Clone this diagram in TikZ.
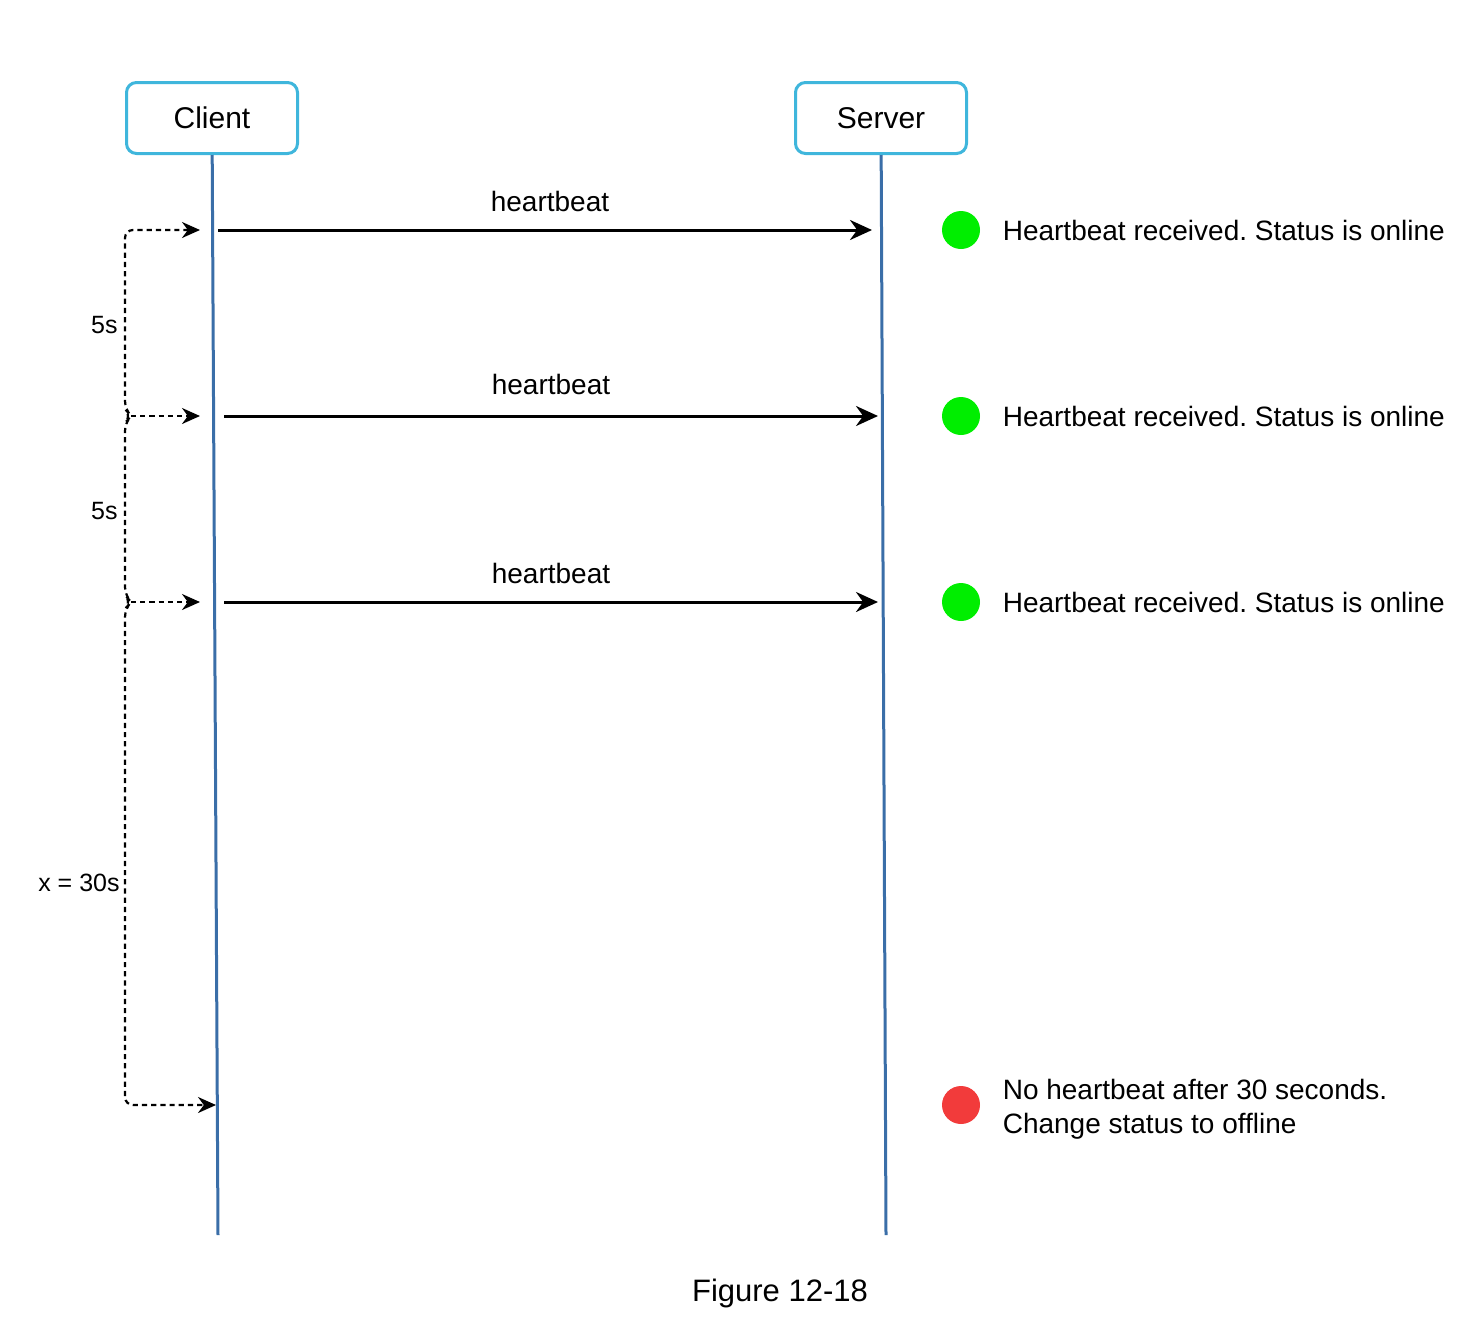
\documentclass[tikz,border=0pt]{standalone}
\usepackage{fontspec}
\setmainfont{Liberation Sans}
\frenchspacing
\usetikzlibrary{positioning, arrows.meta}
\definecolor{boxblue}{HTML}{3FB6DC}
\definecolor{lineblue}{HTML}{3A6EA8}
\definecolor{okgreen}{HTML}{00EE00}
\definecolor{failred}{HTML}{F23B3B}
\tikzset{
x=0.5pt, y=-0.5pt, % one unit is one pixel of the reference
actor/.style={draw=boxblue, line width=1.5pt, rounded corners=5pt, fill=white, minimum width=85.5pt, minimum height=35.5pt, font=\fontsize{15}{18}\selectfont}, % the two boxes on top
lifeline/.style={draw=lineblue, line width=1.5pt},
msg/.style={line width=1.5pt, -{Stealth[length=11pt, width=10pt]}}, % heartbeat arrows
timer/.style={dash pattern=on 2.6pt off 2pt, line width=1.1pt, >={Stealth[length=9pt, width=8pt]}}, % dashed timing bracket
dot/.style={circle, minimum size=19pt, inner sep=0pt},
status/.style={inner sep=0pt, align=left, font=\fontsize{14}{17}\selectfont},
}

\begin{document}
\begin{tikzpicture}
    \useasboundingbox (0,0) rectangle (1460,1328);
    \node[actor] (client) at (212,118) {Client};
    \node[actor] (server) at (881,118) {Server};
    \coordinate (client-end) at (218,1235);
    \coordinate (server-end) at (886,1235);
    \draw[lifeline] (client) -- (client-end);
    \draw[lifeline] (server) -- (server-end);

    \coordinate (send1) at (218,230);
    \coordinate (recv1) at (872,230);
    \coordinate (send2) at (224,416);
    \coordinate (recv2) at (878,416);
    \coordinate (send3) at (224,602);
    \coordinate (recv3) at (878,602);
    \draw[msg] (send1) -- node[above=5.2pt, xshift=2.5pt, font=\fontsize{14}{17}\selectfont] {heartbeat} (recv1);
    \draw[msg] (send2) -- node[above=6.5pt, font=\fontsize{14}{17}\selectfont] {heartbeat} (recv2);
    \draw[msg] (send3) -- node[above=5pt, font=\fontsize{14}{17}\selectfont] {heartbeat} (recv3);

    \node[dot, fill=okgreen] (ok1) at (961,230) {};
    \node[dot, fill=okgreen] (ok2) at (961,416) {};
    \node[dot, fill=okgreen] (ok3) at (961,602) {};
    \node[dot, fill=failred] (fail) at (961,1105) {};
    \node[status, right=11pt of ok1] (status1) {Heartbeat received. Status is online};
    \node[status, right=11pt of ok2] (status2) {Heartbeat received. Status is online};
    \node[status, right=11pt of ok3] (status3) {Heartbeat received. Status is online};
    \node[status, right=11pt of fail, yshift=-2pt] (offline) {No heartbeat after 30 seconds.\\Change status to offline};

    % timing bracket on the left
    \coordinate (top) at (125,230);
    \coordinate (tick1) at (131,416);
    \coordinate (tick2) at (131,602);
    \coordinate (bottom) at (125,1105);
    \coordinate (beat1) at (200,230);
    \coordinate (beat2) at (200,416);
    \coordinate (beat3) at (200,602);
    \coordinate (timeout) at (216,1105);
    \draw[timer, rounded corners=4pt, <->] (beat1) -- (top) -- (125,409) -- (tick1) -- (125,423)
        -- (125,595) -- (tick2) -- (125,609) -- (bottom) -- (timeout);
    \draw[timer, ->] (tick1) -- (beat2);
    \draw[timer, ->] (tick2) -- (beat3);
    \node[anchor=east, inner sep=0pt, font=\fontsize{12.5}{15}\selectfont] (gap1) at (118,325) {5s};
    \node[anchor=east, inner sep=0pt, font=\fontsize{12.5}{15}\selectfont] (gap2) at (118,511) {5s};
    \node[anchor=east, inner sep=0pt, font=\fontsize{12.5}{15}\selectfont] (limit) at (120,883) {x = 30s};

    \node[font=\fontsize{15.5}{19}\selectfont] (caption) at (780,1293) {Figure 12-18};
\end{tikzpicture}
\end{document}
